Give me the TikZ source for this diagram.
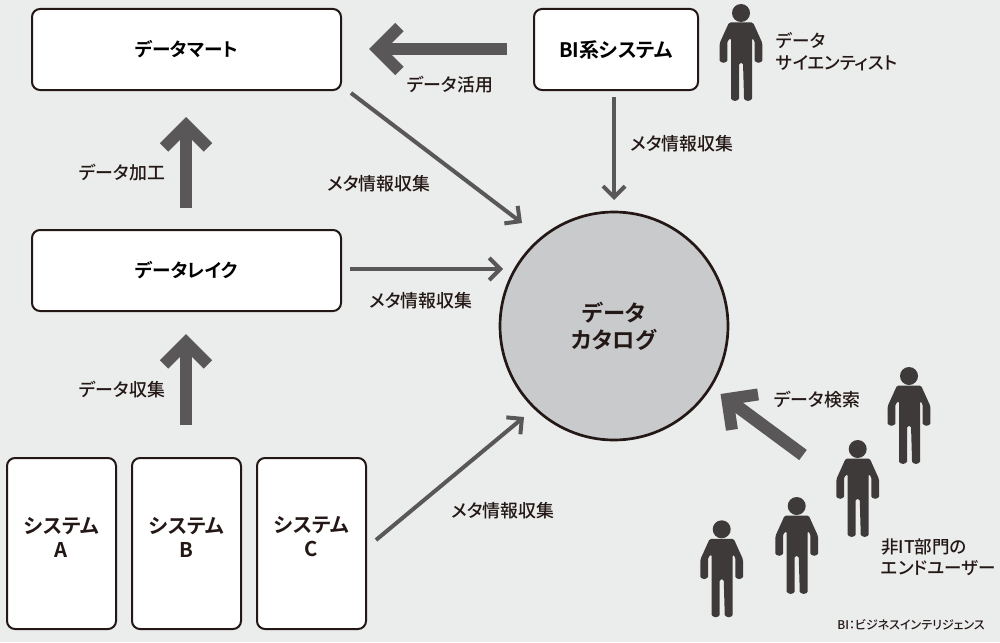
\documentclass[tikz,border=0pt]{standalone}
\usepackage{fontspec}
\setmainfont[RawFeature=+palt,BoldFont={Noto Sans CJK JP Bold}]{Noto Sans CJK JP Medium}
\usetikzlibrary{arrows.meta}
\definecolor{bgc}{HTML}{EBECEC}
\definecolor{ink}{HTML}{231815}
\definecolor{arr}{HTML}{595757}
\definecolor{fig}{HTML}{3E3A39}
\definecolor{disc}{HTML}{C9CACC}
\tikzset{
  box/.style={draw=ink,fill=white,line width=2pt,rounded corners=8pt,inner sep=0pt,align=center},
  boxtext/.style={text=ink,inner sep=0pt,align=center,font=\fontsize{18}{24}\selectfont\bfseries},
  lab/.style={text=ink,inner sep=0pt,align=left,font=\fontsize{17.9}{22}\selectfont},
  thin arrow/.style={draw=arr,line width=4pt,-{Straight Barb[length=11pt,width=22pt,line width=4pt]}},
  fat arrow/.style={draw=arr,line width=12.7pt,-{Straight Barb[length=22pt,width=44pt,line width=12pt]}},
  pics/person/.style={code={
    \fill[fig] (0,0) circle (9);
    \fill[fig,rounded corners=1.5pt] (-12,9.5) -- (12,9.5) -- (21.3,30) -- (21.3,46) arc[start angle=0,end angle=180,radius=3.8] -- (13.7,28) -- (11,25) -- (11,84) arc[start angle=0,end angle=180,radius=4] -- (2,50) -- (-2,50) -- (-2,84) arc[start angle=0,end angle=180,radius=4] -- (-10,25) -- (-13.7,28) -- (-13.7,46) arc[start angle=0,end angle=180,radius=3.8] -- (-21.3,30) -- cycle;
  }}
}
\begin{document}
\begin{tikzpicture}[x=1pt,y=-1pt]
\useasboundingbox (0,0) rectangle (1000,642);
\fill[bgc] (0,0) rectangle (1000,642);
\node[box,minimum width=309pt,minimum height=81pt,font=\fontsize{18.6}{24}\selectfont\bfseries] (mart) at (186.5,49.5) {データマート};
\node[box,minimum width=164pt,minimum height=81pt,font=\fontsize{20}{24}\selectfont\bfseries] (bi) at (616,49.5) {BI系システム};
\node[box,minimum width=309pt,minimum height=81pt,font=\fontsize{18.6}{24}\selectfont\bfseries] (lake) at (186.5,270.5) {データレイク};
\node[box,minimum width=109pt,minimum height=171pt] (sa) at (61.5,543.5) {};
\node[box,minimum width=109pt,minimum height=171pt] (sb) at (186.5,543.5) {};
\node[box,minimum width=109pt,minimum height=171pt] (sc) at (311.5,543.5) {};
\node[boxtext,font=\fontsize{20.3}{24}\selectfont\bfseries] (sat) at (61.5,537) {システム\\A};
\node[boxtext,font=\fontsize{20.3}{24}\selectfont\bfseries] (sbt) at (186.5,537) {システム\\B};
\node[boxtext,font=\fontsize{20.3}{24}\selectfont\bfseries] (sct) at (311.5,537) {システム\\C};
\node[circle,draw=ink,fill=disc,line width=2.7pt,minimum size=228pt,inner sep=0pt,align=center,text=ink,font=\fontsize{22.3}{27}\selectfont\bfseries] (cat) at (614,326) {データ\\カタログ};
% thin arrows
\coordinate (t1a) at (351,93); \coordinate (t1b) at (522,223);
\coordinate (t2a) at (614,97); \coordinate (t2b) at (614,200);
\coordinate (t3a) at (350,269); \coordinate (t3b) at (503,269);
\coordinate (t4a) at (376,540); \coordinate (t4b) at (524,417);
\draw[thin arrow] (t1a) -- (t1b);
\draw[thin arrow] (t2a) -- (t2b);
\draw[thin arrow] (t3a) -- (t3b);
\draw[thin arrow] (t4a) -- (t4b);
% fat arrows
\coordinate (f1a) at (507,49); \coordinate (f1b) at (369,49);
\coordinate (f2a) at (186,208); \coordinate (f2b) at (186,117);
\coordinate (f3a) at (186,425); \coordinate (f3b) at (186,334);
\coordinate (f4a) at (803,455); \coordinate (f4b) at (720.5,394);
\draw[fat arrow] (f1a) -- (f1b);
\draw[fat arrow] (f2a) -- (f2b);
\draw[fat arrow] (f3a) -- (f3b);
\draw[fat arrow] (f4a) -- (f4b);
% labels
\node[lab] (l1) at (450,85) {データ活用};
\node[lab] (l2) at (122,173) {データ加工};
\node[lab] (l3) at (122,390) {データ収集};
\node[lab] (l4) at (682,144) {メタ情報収集};
\node[lab] (l5) at (379,184) {メタ情報収集};
\node[lab] (l6) at (421,301) {メタ情報収集};
\node[lab] (l7) at (503,511) {メタ情報収集};
\node[lab] (l8) at (817,400) {データ検索};
\node[lab,anchor=west,font=\fontsize{17.5}{22}\selectfont] (l9) at (776,52) {データ\\サイエンティスト};
\node[lab,anchor=west,font=\fontsize{17.5}{21}\selectfont] (l10) at (881,557) {非IT部門の\\エンドユーザー};
\node[text=ink,inner sep=0pt,anchor=east,font=\fontsize{12}{15}\selectfont] (l11) at (985,625) {BI：ビジネスインテリジェンス};
% people
\pic at (741,13) {person};
\pic at (909,376) {person};
\pic at (857.7,449) {person};
\pic at (796.7,506) {person};
\pic at (721.7,529.3) {person};
\end{tikzpicture}
\end{document}
